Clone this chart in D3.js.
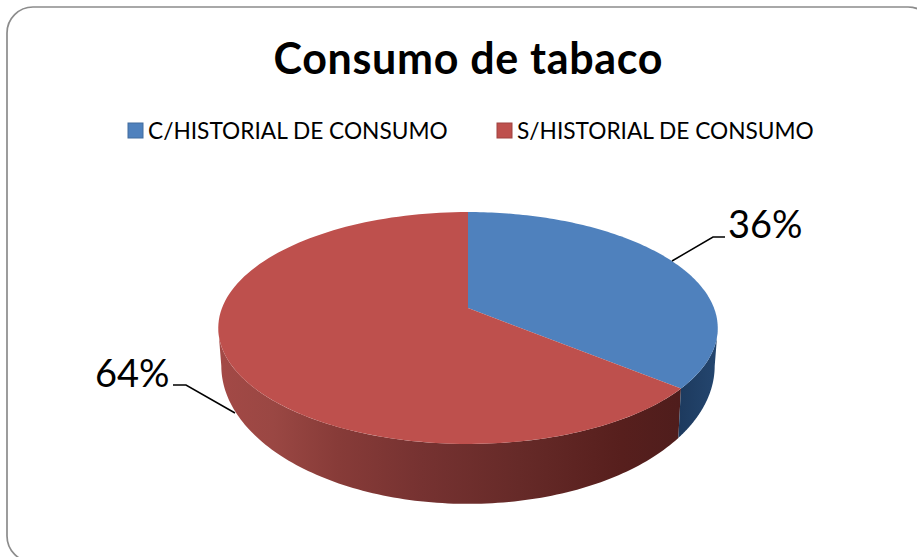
<!DOCTYPE html>
<html>
<head>
<meta charset="utf-8">
<script src="https://d3js.org/d3.v7.min.js"></script>
<style>
body { margin: 0; background: #fff; }
text { font-family: Lato, "Open Sans", sans-serif; fill: #000; }
</style>
</head>
<body>
<svg width="917" height="557"></svg>
<script>
var categories = ['C/HISTORIAL DE CONSUMO', 'S/HISTORIAL DE CONSUMO'];
var values = [36, 64];
var labels = ['36%', '64%'];
var topColors = ['#4f81bd', '#be504d'];

var svg = d3.select('svg');

// frame, runs off the right and bottom of the picture
svg.append('rect')
    .attr('x', 7).attr('y', 7)
    .attr('width', 927).attr('height', 555)
    .attr('rx', 26)
    .attr('fill', '#fff')
    .attr('stroke', '#8c8c8c')
    .attr('stroke-width', 1.7);

svg.append('text')
    .attr('x', 468).attr('y', 73.5)
    .attr('text-anchor', 'middle')
    .attr('font-size', 43)
    .attr('font-weight', 700)
    .attr('textLength', 389)
    .text('Consumo de tabaco');

// gradients for the side wall
var defs = svg.append('defs');
var redWall = defs.append('linearGradient').attr('id', 'redWall');
redWall.append('stop').attr('offset', '0%').attr('stop-color', '#a34946');
redWall.append('stop').attr('offset', '12%').attr('stop-color', '#9a4743');
redWall.append('stop').attr('offset', '26%').attr('stop-color', '#873b38');
redWall.append('stop').attr('offset', '44%').attr('stop-color', '#763231');
redWall.append('stop').attr('offset', '65%').attr('stop-color', '#662a28');
redWall.append('stop').attr('offset', '87%').attr('stop-color', '#571f1d');
redWall.append('stop').attr('offset', '100%').attr('stop-color', '#4f1d1c');
var blueWall = defs.append('linearGradient').attr('id', 'blueWall');
blueWall.append('stop').attr('offset', '0%').attr('stop-color', '#1d3a5e');
blueWall.append('stop').attr('offset', '100%').attr('stop-color', '#24466f');

// legend
var legendX = [128, 497];
var legend = svg.selectAll('.legend')
    .data(categories)
    .enter()
    .append('g')
    .attr('class', 'legend')
    .attr('transform', function(d, i) { return 'translate(' + legendX[i] + ',123)'; });
legend.append('rect')
    .attr('width', 15).attr('height', 15)
    .attr('fill', function(d, i) { return topColors[i]; })
    .attr('stroke', function(d, i) { return d3.color(topColors[i]).darker(0.5); });
legend.append('text')
    .attr('x', 20).attr('y', 15.5)
    .attr('font-size', 22.7)
    .text(function(d) { return d; });

// tilted disc: unit circle through a perspective projection
function project(a, p) {
    var u = Math.sin(a), v = -Math.cos(a);
    var w = 1 + p.c * v;
    return [468 + p.r * u / w, (p.b + p.a * v) / w];
}
var topFace = { r: 246, a: 59.4, b: 308, c: -0.1724 };
var bottomFace = { r: 243, a: 75, b: 342, c: -0.1724 };

var arcs = d3.pie().sort(null)(values);
var line = d3.line();

function arcPoints(a0, a1, p) {
    return d3.range(0, 121).map(function(i) {
        return project(a0 + (a1 - a0) * i / 120, p);
    });
}

// side walls, from the widest point on the right to the widest on the left
var wallStart = [Math.PI * 100 / 180, arcs[0].endAngle];
var wallEnd = [arcs[0].endAngle, Math.PI * 260 / 180];
['url(#redWall)', 'url(#blueWall)'].forEach(function(fill, k) {
    var i = 1 - k;
    var pts = arcPoints(wallStart[i], wallEnd[i], topFace)
        .concat(arcPoints(wallEnd[i], wallStart[i], bottomFace));
    svg.append('path')
        .attr('d', line(pts) + 'Z')
        .attr('fill', fill);
});

// top face
var apex = [468, topFace.b];
svg.selectAll('.slice')
    .data(arcs)
    .enter()
    .append('path')
    .attr('class', 'slice')
    .attr('d', function(d) {
        return line([apex].concat(arcPoints(d.startAngle, d.endAngle, topFace))) + 'Z';
    })
    .attr('fill', function(d, i) { return topColors[i]; });

// labels and leader lines
var leaders = [
    [[672, 261], [713, 237], [725, 237]],
    [[235, 413], [186, 385], [173, 385]]
];
svg.selectAll('.leader')
    .data(leaders)
    .enter()
    .append('path')
    .attr('class', 'leader')
    .attr('d', line)
    .attr('fill', 'none')
    .attr('stroke', '#000')
    .attr('stroke-width', 1.5);

svg.append('text')
    .attr('x', 728).attr('y', 238)
    .attr('font-size', 38)
    .text(labels[0]);
svg.append('text')
    .attr('x', 95).attr('y', 387)
    .attr('font-size', 38)
    .text(labels[1]);
</script>
</body>
</html>
